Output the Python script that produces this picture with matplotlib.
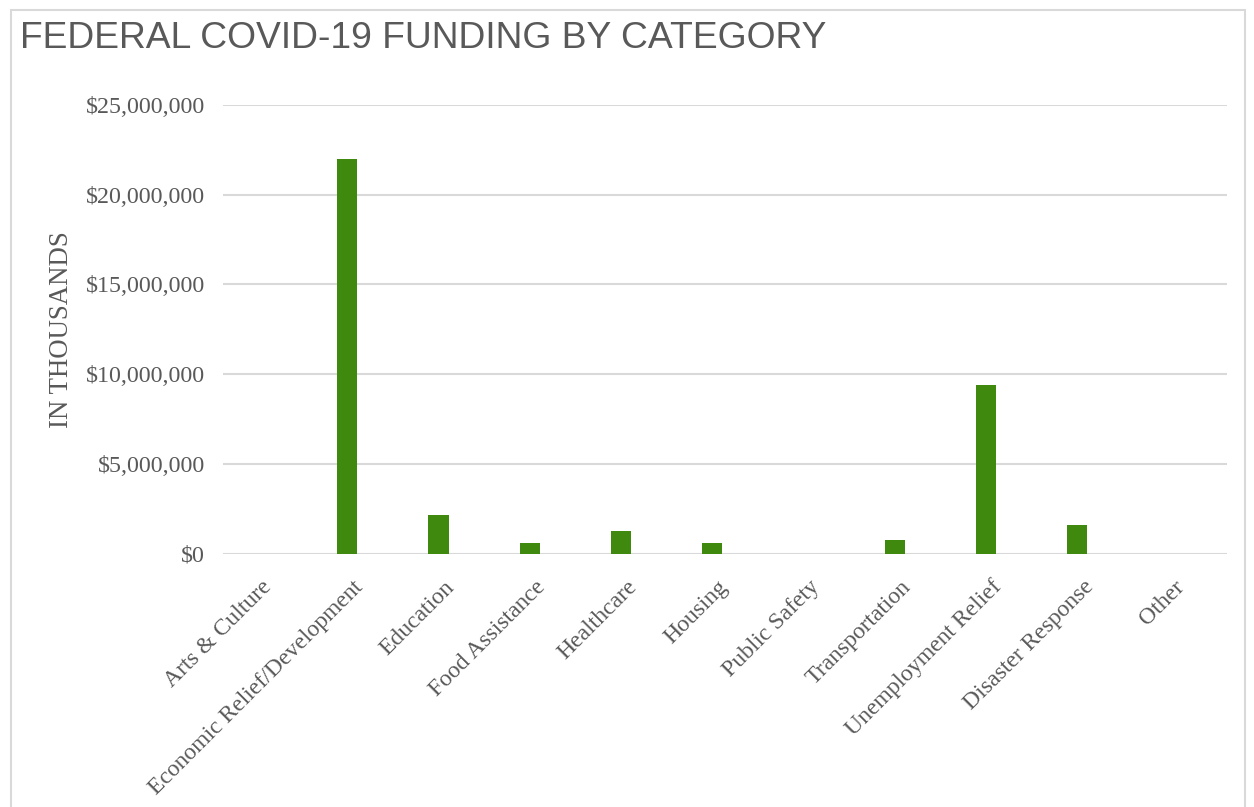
import numpy as np
import matplotlib
matplotlib.use("Agg")
import matplotlib.pyplot as plt
from matplotlib.ticker import FuncFormatter
from matplotlib.patches import Rectangle

categories = ["Arts & Culture", "Economic Relief/Development", "Education",
              "Food Assistance", "Healthcare", "Housing", "Public Safety",
              "Transportation", "Unemployment Relief", "Disaster Response", "Other"]
funding = [0, 22000000, 2150000, 580000, 1230000, 580000, 0,
           730000, 9400000, 1600000, 0]
yticks = [0, 5000000, 10000000, 15000000, 20000000, 25000000]

GREY = "#595959"
GRID = "#d9d9d9"

fig = plt.figure(figsize=(12.54, 8.07), dpi=100)
ax = fig.add_axes([223 / 1254, 1 - 553.5 / 807, 1004 / 1254, 448.5 / 807])

x = np.arange(len(categories))
ax.bar(x - 0.14, funding, width=0.222, color="#3f8a0e", zorder=3)

ax.set_xlim(-0.5, len(categories) - 0.5)
ax.set_ylim(0, 25000000)
ax.set_yticks(yticks)
ax.yaxis.set_major_formatter(FuncFormatter(lambda v, p: "${:,.0f}".format(v)))
ax.grid(axis="y", color=GRID, linewidth=1.5, zorder=0)
ax.axhline(0, color=GRID, linewidth=2, zorder=2)
for s in ax.spines.values():
    s.set_visible(False)
ax.tick_params(length=0)

for lab in ax.get_yticklabels():
    lab.set_fontfamily("Liberation Serif")
    lab.set_fontsize(17.3)
    lab.set_color(GREY)
ax.tick_params(axis="y", pad=13)

ax.set_xticks(x)
ax.set_xticklabels(categories, rotation=45, ha="right", va="center",
                   rotation_mode="anchor", fontfamily="Liberation Serif",
                   fontsize=17, color=GREY)
ax.tick_params(axis="x", pad=22)

fig.text(61 / 1254, 1 - 330 / 807, "IN THOUSANDS", rotation=90,
         ha="center", va="center", fontfamily="Liberation Serif",
         fontsize=19.3, color=GREY)

fig.text(20 / 1254, 1 - 38 / 807, "FEDERAL COVID-19 FUNDING BY CATEGORY",
         ha="left", va="center",
         family=["Liberation Sans Narrow", "Liberation Sans"],
         fontsize=26.8, color=GREY)

fig.patches.append(Rectangle((11 / 1254, -0.05), 1234 / 1254, 1.05 - 10 / 807,
                             transform=fig.transFigure, fill=False,
                             edgecolor=GRID, linewidth=1.5))

fig.savefig("out.png", dpi=100)
